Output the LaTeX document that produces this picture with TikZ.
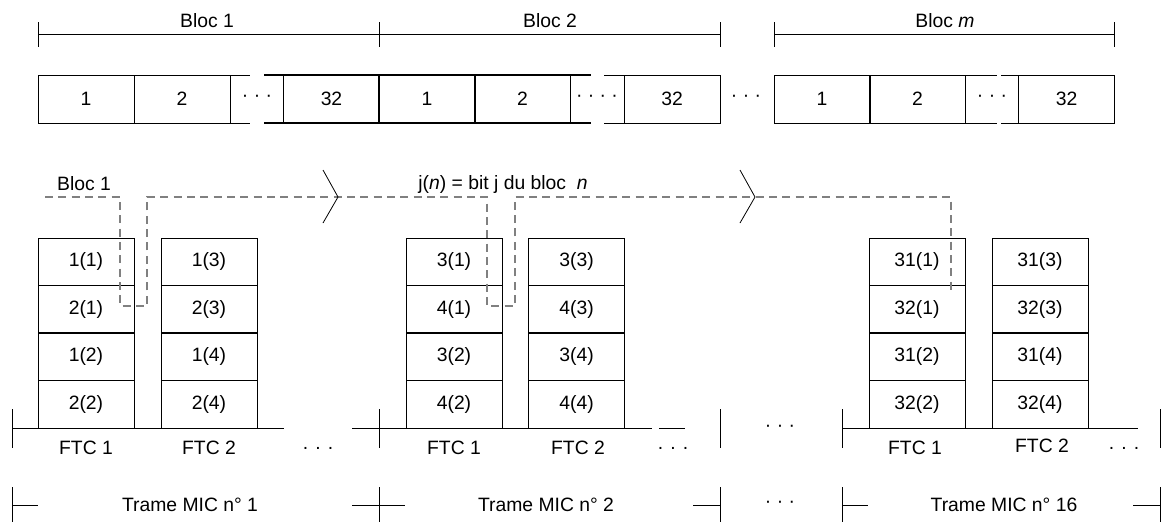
\documentclass[tikz,border=0pt]{standalone}
\usepackage{fontspec}
\setmainfont{Liberation Sans}
\usepackage{tikz}
\usepackage{xcolor}
\usetikzlibrary{positioning, arrows}

\definecolor{dashgray}{RGB}{128,128,128}

\tikzset{
  cell/.style={draw, line width=0.6pt, minimum width=72pt, minimum height=36pt, inner sep=0pt, outer sep=0pt},
  boldcell/.style={cell, line width=1.3pt},
  stackcell/.style={draw, line width=0.6pt, minimum width=72pt, minimum height=35.625pt, inner sep=0pt, outer sep=0pt},
  thinline/.style={line width=0.6pt},
  boldline/.style={line width=1.3pt},
  bitpath/.style={dashgray, line width=1pt, dash pattern=on 6pt off 4pt},
  lbl/.style={inner sep=0pt}
}

\begin{document}
\begin{tikzpicture}[x=0.75pt,y=0.75pt,yscale=-1,xscale=1,font=\fontsize{14.5}{17}\selectfont]
\useasboundingbox (0,0) rectangle (1161,522);

%Straight Lines [Bloc dimensions]
\draw[thinline] (38,34) -- (379,34) ;
\draw[thinline] (379,34) -- (720,34) ;
\draw[thinline] (774,34) -- (1114,34) ;
\draw[thinline] (38,22) -- (38,47) ;
\draw[thinline] (379,22) -- (379,47) ;
\draw[thinline] (720,22) -- (720,47) ;
\draw[thinline] (774,22) -- (774,47) ;
\draw[thinline] (1114,22) -- (1114,47) ;
% Text Node
\node[lbl] (bloc1) at (207,21) {Bloc 1};
% Text Node
\node[lbl] (bloc2) at (550,21) {Bloc 2};
% Text Node
\node[lbl] (blocm) at (945,21) {Bloc \textit{m}};

%Shape: Rectangle [Bloc 1]
\node[cell] (b1c1) at (86,99) {1};
\node[cell] (b1c2) at (182,99) {2};
\draw[thinline] (230,75) -- (250,75) ;
\draw[thinline] (230,123) -- (250,123) ;
% Text Node
\node[lbl] (b1dots) at (257,98) {· · ·};

%Shape: Rectangle [Bloc 2]
\node[cell] (b2c32) at (672,99) {32};
\draw[thinline] (604,75) -- (624,75) ;
\draw[thinline] (604,123) -- (624,123) ;
% Text Node
\node[lbl] (b2dots) at (597,98) {· · · ·};

%Shape: Rectangle [bold part]
\node[boldcell] (b1c32) at (331.5,99) {32};
\node[boldcell] (b2c1) at (427,99) {1};
\node[boldcell] (b2c2) at (522.5,99) {2};
\draw[boldline] (264,75) -- (284,75) ;
\draw[boldline] (264,123) -- (284,123) ;
\draw[boldline] (570,75) -- (591,75) ;
\draw[boldline] (570,123) -- (591,123) ;

% Text Node
\node[lbl] (bdots) at (746,98) {· · ·};

%Shape: Rectangle [Bloc m]
\node[cell] (bmc1) at (822,99) {1};
\node[cell] (bmc2) at (917.5,99) {2};
\node[cell] (bmc32) at (1066.5,99) {32};
\draw[thinline] (965,75) -- (997,75) ;
\draw[thinline] (965,123) -- (997,123) ;
\draw[thinline] (1001,75) -- (1019,75) ;
\draw[thinline] (1001,123) -- (1019,123) ;
% Text Node
\node[lbl] (bmdots) at (992,98) {· · ·};

%Shape: Rectangle [Trame MIC 1]
\node[stackcell] (g1a1) at (86,261.75) {1(1)};
\node[stackcell] (g1a2) at (86,309.25) {2(1)};
\node[stackcell] (g1a3) at (86,356.75) {1(2)};
\node[stackcell] (g1a4) at (86,404.25) {2(2)};
\node[stackcell] (g1b1) at (209,261.75) {1(3)};
\node[stackcell] (g1b2) at (209,309.25) {2(3)};
\node[stackcell] (g1b3) at (209,356.75) {1(4)};
\node[stackcell] (g1b4) at (209,404.25) {2(4)};

%Shape: Rectangle [Trame MIC 2]
\node[stackcell] (g2a1) at (454,261.75) {3(1)};
\node[stackcell] (g2a2) at (454,309.25) {4(1)};
\node[stackcell] (g2a3) at (454,356.75) {3(2)};
\node[stackcell] (g2a4) at (454,404.25) {4(2)};
\node[stackcell] (g2b1) at (576.5,261.75) {3(3)};
\node[stackcell] (g2b2) at (576.5,309.25) {4(3)};
\node[stackcell] (g2b3) at (576.5,356.75) {3(4)};
\node[stackcell] (g2b4) at (576.5,404.25) {4(4)};

%Shape: Rectangle [Trame MIC 16]
\node[stackcell] (g3a1) at (917,261.75) {31(1)};
\node[stackcell] (g3a2) at (917,309.25) {32(1)};
\node[stackcell] (g3a3) at (917,356.75) {31(2)};
\node[stackcell] (g3a4) at (917,404.25) {32(2)};
\node[stackcell] (g3b1) at (1040,261.75) {31(3)};
\node[stackcell] (g3b2) at (1040,309.25) {32(3)};
\node[stackcell] (g3b3) at (1040,356.75) {31(4)};
\node[stackcell] (g3b4) at (1040,404.25) {32(4)};

%Straight Lines [row borders]
\draw[boldline] (g1a1.south west) -- (g1a1.south east) (g1a2.south west) -- (g1a2.south east) (g1a3.south west) -- (g1a3.south east) ;
\draw[boldline] (g1b1.south west) -- (g1b1.south east) (g1b2.south west) -- (g1b2.south east) (g1b3.south west) -- (g1b3.south east) ;
\draw[boldline] (g2a1.south west) -- (g2a1.south east) (g2a2.south west) -- (g2a2.south east) (g2a3.south west) -- (g2a3.south east) ;
\draw[boldline] (g2b1.south west) -- (g2b1.south east) (g2b2.south west) -- (g2b2.south east) (g2b3.south west) -- (g2b3.south east) ;
\draw[boldline] (g3a1.south west) -- (g3a1.south east) (g3a2.south west) -- (g3a2.south east) (g3a3.south west) -- (g3a3.south east) ;
\draw[boldline] (g3b1.south west) -- (g3b1.south east) (g3b2.south west) -- (g3b2.south east) (g3b3.south west) -- (g3b3.south east) ;

%Straight Lines [bit path]
\draw[bitpath] (45,197) -- (120,197) -- (120,306) -- (147,306) -- (147,197) -- (487,197) -- (487,306) -- (515,306) -- (515,197) -- (951,197) -- (951,293) ;
%Straight Lines [chevrons]
\draw[thinline] (323,170) -- (338,197) -- (323,223) ;
\draw[thinline] (740,170) -- (755,197) -- (740,223) ;
% Text Node
\node[lbl] (bitbloc) at (84,184) {Bloc 1};
% Text Node
\node[lbl] (bitdef) at (503,184) {j(\textit{n}) = bit j du bloc\ \ \textit{n}};

%Straight Lines [FTC base lines]
\draw[boldline] (12,428.5) -- (284,428.5) ;
\draw[boldline] (352,428.5) -- (652,428.5) ;
\draw[thinline] (659,428.5) -- (685,428.5) ;
\draw[boldline] (842,428.5) -- (1115,428.5) ;
\draw[thinline] (1115,428.5) -- (1138,428.5) ;
\draw[thinline] (12,409) -- (12,448) ;
\draw[thinline] (379,409) -- (379,448) ;
\draw[thinline] (720,409) -- (720,448) ;
\draw[thinline] (842,409) -- (842,448) ;
\draw[thinline] (1160.5,409) -- (1160.5,448) ;
% Text Node
\node[lbl] (g1ftc1) at (86,448) {FTC 1};
\node[lbl] (g1ftc2) at (209,448) {FTC 2};
\node[lbl] (g1dots) at (318,448) {. . .};
\node[lbl] (g2ftc1) at (454,448) {FTC 1};
\node[lbl] (g2ftc2) at (578,448) {FTC 2};
\node[lbl] (g2dots) at (673,448) {. . .};
\node[lbl] (midots) at (780,428) {· · ·};
\node[lbl] (g3ftc1) at (915,448) {FTC 1};
\node[lbl] (g3ftc2) at (1042,446) {FTC 2};
\node[lbl] (g3dots) at (1124,448) {. . .};

%Straight Lines [Trame dimensions]
\draw[thinline] (12,505) -- (38,505) ;
\draw[thinline] (352,505) -- (405,505) ;
\draw[thinline] (693,505) -- (720,505) ;
\draw[thinline] (842,505) -- (868,505) ;
\draw[thinline] (1133,505) -- (1161,505) ;
\draw[thinline] (12,487) -- (12,522) ;
\draw[thinline] (379,487) -- (379,522) ;
\draw[thinline] (720,487) -- (720,522) ;
\draw[thinline] (842,487) -- (842,522) ;
\draw[thinline] (1160.5,487) -- (1160.5,522) ;
% Text Node
\node[lbl] (trame1) at (190,505) {Trame MIC n° 1};
\node[lbl] (trame2) at (546,505) {Trame MIC n° 2};
\node[lbl] (midots2) at (780,504) {· · ·};
\node[lbl] (trame16) at (1004,505) {Trame MIC n° 16};

\end{tikzpicture}
\end{document}
